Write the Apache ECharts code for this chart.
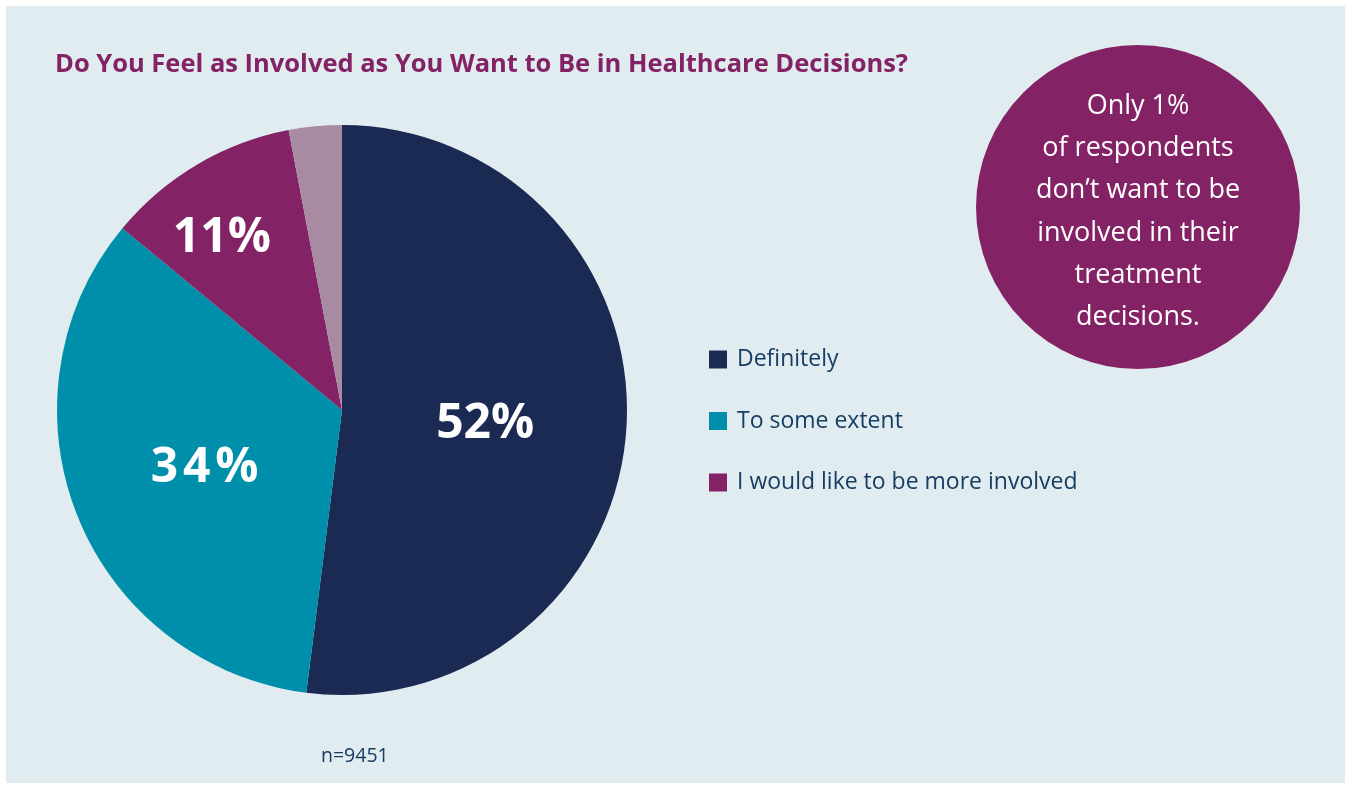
<!DOCTYPE html>
<html>
<head>
<meta charset="utf-8">
<script src="https://cdn.jsdelivr.net/npm/echarts@6/dist/echarts.min.js"></script>
<style>
html,body{margin:0;padding:0;background:#ffffff;}
#chart{width:1351px;height:789px;}
</style>
</head>
<body>
<div id="chart"></div>
<script>
const categories = ['Definitely', 'To some extent', 'I would like to be more involved', "Don't want to be involved"];
const values = [52, 34, 11, 3];
const labels = ['52%', '3\u200A4\u200A%', '11%', ''];
const colors = ['#1a2a52', '#008fab', '#832264', '#a98aa3'];
const legendItems = ['Definitely', 'To some extent', 'I would like to be more involved'];
const title = 'Do You Feel as Involved as You Want to Be in Healthcare Decisions?';
const calloutLines = ['Only 1%', 'of respondents', 'don\u2019t want to be', 'involved in their', 'treatment', 'decisions.'];
const footnote = 'n=9451';

const chart = echarts.init(document.getElementById('chart'));
const fontFamily = '"Open Sans", "Noto Sans", sans-serif';

const option = {
  backgroundColor: '#ffffff',
  animation: false,
  title: {
    text: title,
    left: 55,
    top: 52,
    padding: 0,
    textStyle: { color: '#832264', fontSize: 25.5, fontWeight: 'bold', fontFamily: fontFamily }
  },
  legend: {
    data: legendItems,
    orient: 'vertical',
    left: 709,
    top: 348,
    padding: 0,
    itemWidth: 18,
    itemHeight: 18,
    itemGap: 38.5,
    icon: 'rect',
    selectedMode: false,
    textStyle: { color: '#173d63', fontSize: 23, fontFamily: fontFamily, padding: [0, 0, 0, 5] }
  },
  graphic: [
    { type: 'rect', z: -10, shape: { x: 6, y: 6, width: 1339, height: 777 }, style: { fill: '#e1ecf1' } },
    { type: 'circle', z: 1, shape: { cx: 1138, cy: 207, r: 162 }, style: { fill: '#832264' } },
    { type: 'text', z: 2, x: 1138, y: 85, style: {
        text: calloutLines.join('\n'), fill: '#ffffff', fontSize: 27, lineHeight: 42.3,
        fontFamily: fontFamily, align: 'center', verticalAlign: 'top'
      } },
    { type: 'text', z: 2, x: 321, y: 746, style: { text: footnote, fill: '#173d63', fontSize: 19.5, fontFamily: fontFamily } }
  ],
  series: [{
    type: 'pie',
    center: [342, 410],
    radius: 285,
    startAngle: 90,
    clockwise: true,
    avoidLabelOverlap: false,
    label: {
      show: true,
      position: 'inside',
      formatter: p => labels[p.dataIndex],
      color: '#ffffff',
      fontSize: 48,
      fontWeight: 'bold',
      fontFamily: fontFamily
    },
    labelLine: { show: false },
    labelLayout: function (params) {
      if (params.dataIndex === 2) { return { dx: -46, dy: -46 }; }
      return { dx: -2, dy: 5 };
    },
    emphasis: { disabled: true },
    itemStyle: { borderWidth: 0 },
    data: categories.map((c, i) => ({ name: c, value: values[i], itemStyle: { color: colors[i] } }))
  }]
};
chart.setOption(option);
</script>
</body>
</html>
